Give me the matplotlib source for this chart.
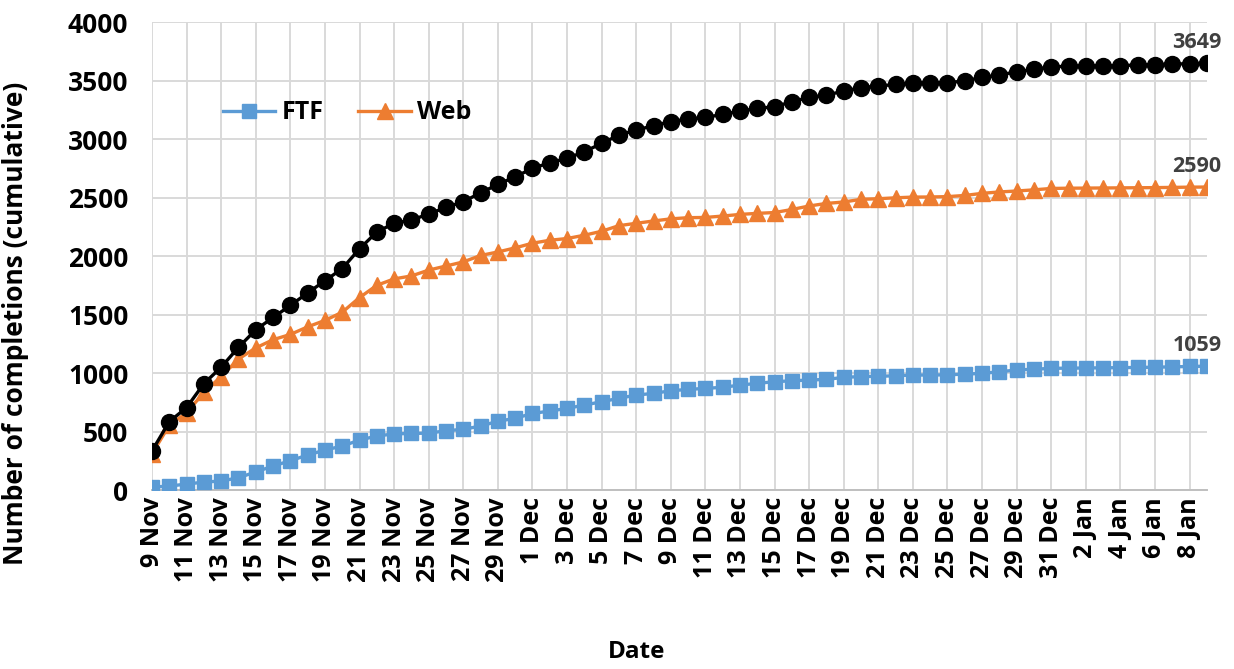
import numpy as np
import pandas as pd
from matplotlib import pyplot as plt

plt.rcParams['font.family'] = ['Open Sans', 'DejaVu Sans']

#####################################################################################################
# Data (cumulative completions per day, 9 Nov - 9 Jan)
dates = pd.date_range("2020-11-09", "2021-01-09", freq="D")
date_labels = [f"{d.day} {d.strftime('%b')}" for d in dates]

ftf = [25, 34, 51, 68, 77, 105, 155, 205, 251, 299,
       342, 376, 427, 462, 480, 484, 486, 507, 519, 547,
       588, 613, 655, 675, 698, 726, 755, 784, 812, 826,
       849, 860, 869, 878, 897, 912, 926, 934, 940, 946,
       963, 970, 972, 977, 983, 983, 985, 991, 997, 1011,
       1026, 1033, 1040, 1042, 1043, 1045, 1046, 1048, 1050, 1053,
       1056, 1059]

web = [310, 555, 660, 835, 970, 1120, 1215, 1285, 1330, 1395,
       1450, 1520, 1645, 1750, 1805, 1830, 1880, 1915, 1950, 2005,
       2035, 2070, 2110, 2135, 2150, 2178, 2212, 2260, 2280, 2300,
       2318, 2328, 2330, 2342, 2356, 2365, 2372, 2398, 2428, 2450,
       2462, 2485, 2490, 2498, 2504, 2505, 2508, 2518, 2536, 2548,
       2556, 2566, 2578, 2580, 2581, 2582, 2583, 2584, 2585, 2587,
       2589, 2590]

total = [335, 585, 705, 910, 1050, 1220, 1370, 1475, 1578, 1685,
         1789, 1893, 2062, 2206, 2280, 2308, 2359, 2416, 2464, 2541,
         2612, 2678, 2749, 2798, 2835, 2892, 2963, 3034, 3077, 3114,
         3150, 3172, 3185, 3211, 3239, 3262, 3276, 3319, 3356, 3376,
         3410, 3440, 3453, 3467, 3481, 3481, 3481, 3498, 3527, 3547,
         3576, 3596, 3618, 3622, 3624, 3627, 3628, 3633, 3637, 3641,
         3644, 3649]

#####################################################################################################
# Plot
x = np.arange(len(dates))

fig = plt.figure(figsize=(12.34, 6.69), dpi=100)
ax = fig.add_axes([0.1232, 0.2675, 0.8548, 0.6995])

ax.plot(x, ftf, color="#5B9BD5", lw=2.4, marker="s", ms=10, label="FTF", zorder=3)
ax.plot(x, web, color="#ED7D31", lw=2.4, marker="^", ms=11, label="Web", zorder=3)
ax.plot(x, total, color="black", lw=2.4, marker="o", ms=11.5, zorder=4)

for series in (total, web, ftf):
    ax.annotate(str(series[-1]), (x[-1], series[-1]), xytext=(-7, 7),
                textcoords="offset points", ha="center", va="bottom",
                fontsize=15.5, fontweight="bold", color="#404040")

ax.set_xlim(0, len(x) - 1)
ax.set_ylim(0, 4000)
ax.set_yticks(np.arange(0, 4001, 500))
ax.set_xticks(x[::2])
ax.set_xticklabels(date_labels[::2], rotation=90, fontsize=18, fontweight="bold")
ax.tick_params(axis="y", labelsize=19, length=0, pad=17)
ax.tick_params(axis="x", length=0, pad=5)
for lab in ax.get_yticklabels():
    lab.set_fontweight("bold")

ax.grid(True, color="#D9D9D9", lw=1.4)
ax.set_axisbelow(True)
for side in ["top", "right", "left"]:
    ax.spines[side].set_visible(False)
ax.spines["bottom"].set_color("#BFBFBF")
ax.spines["bottom"].set_linewidth(1.4)

ax.set_ylabel("Number of completions (cumulative)", fontsize=19, fontweight="bold")
ax.yaxis.set_label_coords(-0.1165, 0.357)
fig.text(0.516, 0.025, "Date", ha="center", va="center", fontsize=17.5, fontweight="bold")

ax.legend(loc="center", bbox_to_anchor=(0.185, 0.806), ncol=2, frameon=False,
          prop={"size": 18, "weight": "bold"}, handlelength=2.1, columnspacing=1.4,
          handletextpad=0.25)

plt.savefig("out.png", dpi=100)
